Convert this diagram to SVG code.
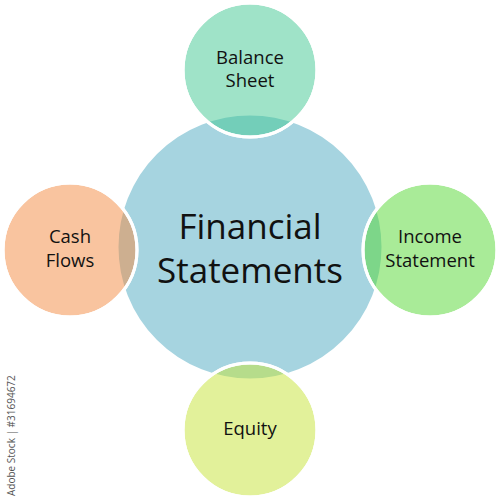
<svg xmlns="http://www.w3.org/2000/svg" width="500" height="500" viewBox="0 0 500 500">
<style>
.c{stroke:#fff;stroke-width:3}
.sat{fill-opacity:0.5}
.t{font-family:"Open Sans","Noto Sans",sans-serif;fill:#111;text-anchor:middle}
.s{font-size:18.5px}
.big{font-size:35px}
.wm{font-family:"Open Sans","Liberation Sans",sans-serif;font-size:10px;fill:#555}
</style>
<rect width="500" height="500" fill="#fff"/>
<g id="financial-statements">
<circle class="c" cx="250" cy="247" r="133" fill="#a6d4e0"/>
<text class="t big" x="250" y="239">Financial</text>
<text class="t big" x="250" y="283">Statements</text>
</g>
<g id="connectors"></g>
<g id="balance-sheet">
<circle class="c sat" cx="250" cy="70" r="67" fill="#3fc791"/>
<circle cx="250" cy="70" r="67" fill="none" stroke="#fff" stroke-width="3"/>
<text class="t s" x="250" y="64">Balance</text>
<text class="t s" x="250" y="87">Sheet</text>
</g>
<g id="cash-flows">
<circle class="c sat" cx="70" cy="250" r="67" fill="#f3893f"/>
<circle cx="70" cy="250" r="67" fill="none" stroke="#fff" stroke-width="3"/>
<text class="t s" x="70" y="243">Cash</text>
<text class="t s" x="70" y="267">Flows</text>
</g>
<g id="income-statement">
<circle class="c sat" cx="430" cy="250" r="67" fill="#53d731"/>
<circle cx="430" cy="250" r="67" fill="none" stroke="#fff" stroke-width="3"/>
<text class="t s" x="430" y="243">Income</text>
<text class="t s" x="430" y="267">Statement</text>
</g>
<g id="equity">
<circle class="c sat" cx="250" cy="430" r="67" fill="#c5e335"/>
<circle cx="250" cy="430" r="67" fill="none" stroke="#fff" stroke-width="3"/>
<text class="t s" x="250" y="435">Equity</text>
</g>
<text class="wm" transform="translate(15,496) rotate(-90)">Adobe Stock | #31694672</text>
</svg>
